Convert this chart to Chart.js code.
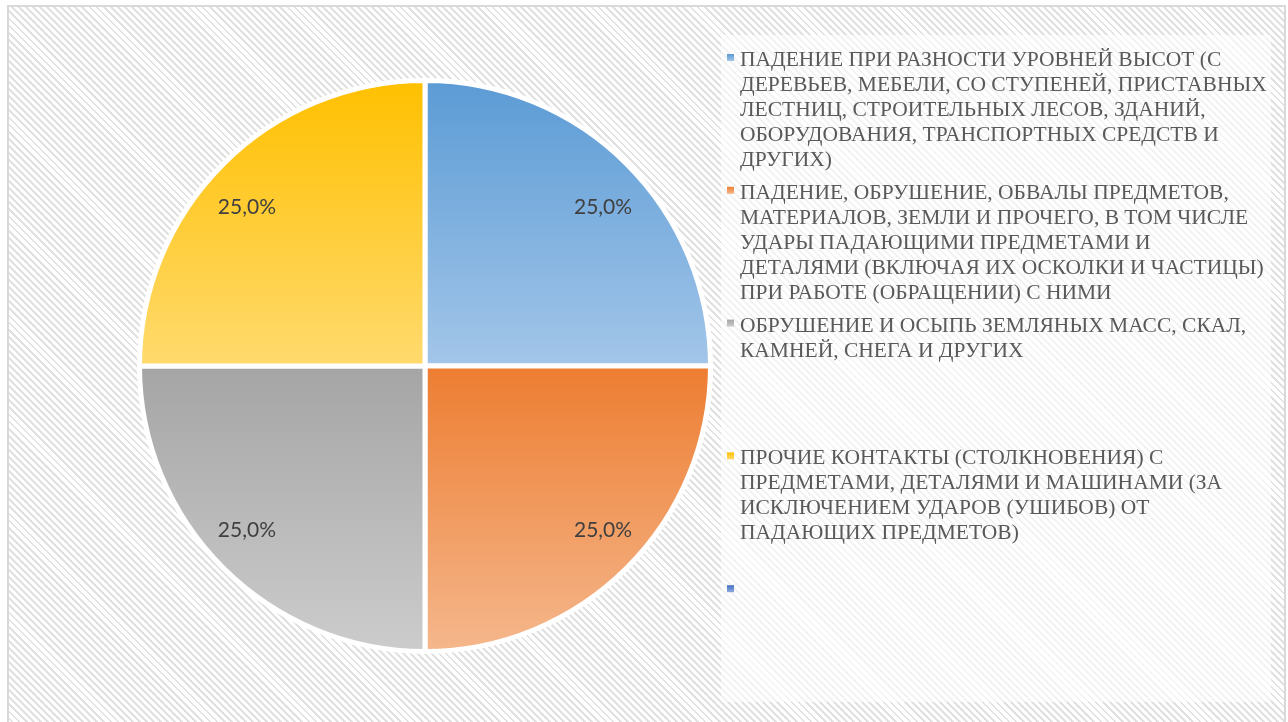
<!DOCTYPE html>
<html lang="ru"><head><meta charset="utf-8">
<script src="https://cdn.jsdelivr.net/npm/chart.js@4.4.1/dist/chart.umd.min.js"></script>
<style>
html,body{margin:0;padding:0;width:1288px;height:722px;overflow:hidden;background:#fff;}
#frame{position:absolute;left:7px;top:5px;width:1275px;height:720px;border:2px solid #d9d9d9;border-bottom:none;
 background:repeating-linear-gradient(45deg,#e1e1e1 0 2px,#ffffff 2px 5px);}
#legendBg{position:absolute;left:721px;top:35px;width:550px;height:667px;background:rgba(255,255,255,0.6);}
#c{position:absolute;left:0;top:0;}
</style>
</head>
<body>
<div id="frame"></div>
<div id="legendBg"></div>
<canvas id="c" width="1288" height="722"></canvas>
<script>
const categories = [
  ["ПАДЕНИЕ ПРИ РАЗНОСТИ УРОВНЕЙ ВЫСОТ (С","ДЕРЕВЬЕВ, МЕБЕЛИ, СО СТУПЕНЕЙ, ПРИСТАВНЫХ","ЛЕСТНИЦ, СТРОИТЕЛЬНЫХ ЛЕСОВ, ЗДАНИЙ,","ОБОРУДОВАНИЯ, ТРАНСПОРТНЫХ СРЕДСТВ И","ДРУГИХ)"],
  ["ПАДЕНИЕ, ОБРУШЕНИЕ, ОБВАЛЫ ПРЕДМЕТОВ,","МАТЕРИАЛОВ, ЗЕМЛИ И ПРОЧЕГО, В ТОМ ЧИСЛЕ","УДАРЫ ПАДАЮЩИМИ ПРЕДМЕТАМИ И","ДЕТАЛЯМИ (ВКЛЮЧАЯ ИХ ОСКОЛКИ И ЧАСТИЦЫ)","ПРИ РАБОТЕ (ОБРАЩЕНИИ) С НИМИ"],
  ["ОБРУШЕНИЕ И ОСЫПЬ ЗЕМЛЯНЫХ МАСС, СКАЛ,","КАМНЕЙ, СНЕГА И ДРУГИХ"],
  ["ПРОЧИЕ КОНТАКТЫ (СТОЛКНОВЕНИЯ) С","ПРЕДМЕТАМИ, ДЕТАЛЯМИ И МАШИНАМИ (ЗА","ИСКЛЮЧЕНИЕМ УДАРОВ (УШИБОВ) ОТ","ПАДАЮЩИХ ПРЕДМЕТОВ)"],
  [""]
];
const shares = [25, 25, 25, 25, 0];
const topColors = ["#5B9BD5", "#ED7D31", "#A5A5A5", "#FFC000", "#4472C4"];
const bottomColors = ["#A3C6E9", "#F5B78C", "#CCCCCC", "#FFDA6E", "#8FAADC"];

const BORDER = 5;

function sliceGradient(ctx) {
  const i = ctx.dataIndex;
  const chart = ctx.chart;
  const a = chart.chartArea;
  if (!a || i === undefined) return topColors[i] || topColors[0];
  const cy = (a.top + a.bottom) / 2;
  const r = (Math.min(a.right - a.left, a.bottom - a.top) - BORDER) / 2;
  const vals = chart.data.datasets[0].data;
  const total = vals.reduce((s, v) => s + (v || 0), 0);
  let before = 0;
  for (let k = 0; k < i; k++) before += vals[k] || 0;
  const s = -Math.PI / 2 + before / total * 2 * Math.PI;
  const e = s + (vals[i] || 0) / total * 2 * Math.PI;
  const ys = [cy, cy + r * Math.sin(s), cy + r * Math.sin(e)];
  [-Math.PI / 2, Math.PI / 2, 3 * Math.PI / 2].forEach(ang => {
    if (ang > s && ang < e) ys.push(cy + r * Math.sin(ang));
  });
  const y0 = Math.min(...ys);
  let y1 = Math.max(...ys);
  if (y1 <= y0) y1 = y0 + 1;
  const g = chart.ctx.createLinearGradient(0, y0, 0, y1);
  g.addColorStop(0, topColors[i]);
  g.addColorStop(1, bottomColors[i]);
  return g;
}

function fmtPct(v, total) {
  return (v / total * 100).toFixed(1).replace('.', ',') + '%';
}

const pctLabels = {
  id: 'pctLabels',
  afterDatasetsDraw(chart) {
    const meta = chart.getDatasetMeta(0);
    const vals = chart.data.datasets[0].data;
    const total = vals.reduce((s, v) => s + (v || 0), 0);
    const c = chart.ctx;
    c.save();
    c.font = '21px Lato, "Liberation Sans", sans-serif';
    c.fillStyle = '#404040';
    c.textAlign = 'center';
    c.textBaseline = 'middle';
    meta.data.forEach((arc, i) => {
      if (!vals[i]) return;
      const p = arc.getProps(['x', 'y', 'startAngle', 'endAngle', 'outerRadius'], true);
      const mid = (p.startAngle + p.endAngle) / 2;
      c.fillText(fmtPct(vals[i], total),
        p.x + Math.cos(mid) * p.outerRadius * 0.882,
        p.y + Math.sin(mid) * p.outerRadius * 0.80 + 3);
    });
    c.restore();
  }
};

// Legend drawn on the canvas (right side), one fixed-height slot per category
const sideLegend = {
  id: 'sideLegend',
  afterDraw(chart) {
    const c = chart.ctx;
    const SLOT = 132.8, LINE = 25, X0 = 727, BASE0 = 66;
    c.save();
    c.font = '21.5px "Liberation Serif", "Times New Roman", serif';
    c.textAlign = 'left';
    c.textBaseline = 'alphabetic';
    chart.data.labels.forEach((lines, i) => {
      const base = BASE0 + i * SLOT;
      const g = c.createLinearGradient(0, base - 12, 0, base - 5);
      g.addColorStop(0, topColors[i]);
      g.addColorStop(1, bottomColors[i]);
      c.fillStyle = g;
      c.fillRect(X0, base - 12, 7, 7);
      c.fillStyle = '#595959';
      (Array.isArray(lines) ? lines : [lines]).forEach((ln, k) => {
        c.fillText(ln, X0 + 13, base + k * LINE);
      });
    });
    c.restore();
  }
};

const chart = new Chart(document.getElementById('c'), {
  type: 'pie',
  data: {
    labels: categories,
    datasets: [{
      data: shares,
      backgroundColor: sliceGradient,
      borderColor: '#ffffff',
      borderWidth: BORDER,
      hoverOffset: 0
    }]
  },
  options: {
    responsive: false,
    maintainAspectRatio: false,
    animation: false,
    events: [],
    layout: { padding: { left: 137, top: 78, right: 575, bottom: 68 } },
    plugins: { legend: { display: false }, tooltip: { enabled: false } }
  },
  plugins: [pctLabels, sideLegend]
});
</script>
</body></html>
